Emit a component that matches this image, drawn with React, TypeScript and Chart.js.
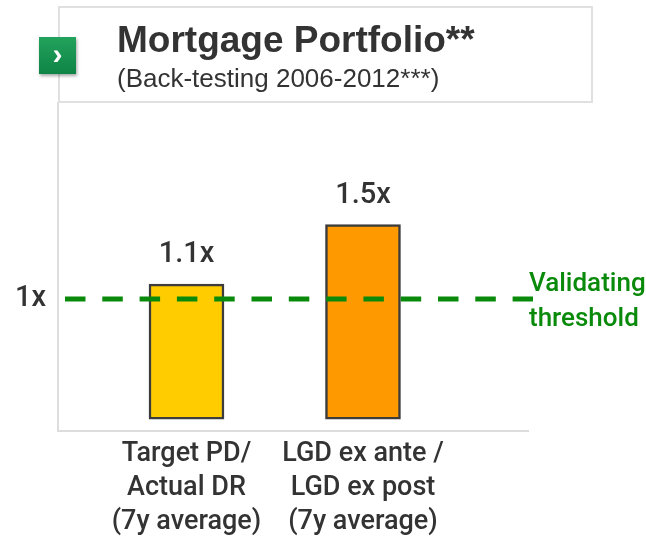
import React, { useEffect, useRef } from "react";
import { Chart, registerables } from "chart.js";

Chart.register(...registerables);

const TITLE = "Mortgage Portfolio**";
const SUBTITLE = "(Back-testing 2006-2012***)";
const CATEGORIES: string[][] = [
  ["Target PD/", "Actual DR", "(7y average)"],
  ["LGD ex ante /", "LGD ex post", "(7y average)"],
];
const VALUES: number[] = [1.1, 1.5];
const VALUE_LABELS: string[] = ["1.1x", "1.5x"];
const BAR_COLORS: string[] = ["#FFCC00", "#FF9900"];
const BAR_BASE = 0.19;
const THRESHOLD = 1;
const THRESHOLD_LABEL: string[] = ["Validating", "threshold"];
const Y_TICKS: number[] = [1];

const NARROW = "'Liberation Sans Narrow', 'Arial Narrow', Roboto, 'Liberation Sans', sans-serif";
const TEXT = "#333333";
const GREEN = "#0a8a0a";

const overlayPlugin = {
  id: "overlay",
  afterDatasetsDraw(chart: any) {
    const { ctx, chartArea } = chart;
    const y = chart.scales.y;
    const ty = y.getPixelForValue(THRESHOLD);
    ctx.save();
    ctx.strokeStyle = GREEN;
    ctx.lineWidth = 5;
    ctx.lineCap = "butt";
    ctx.setLineDash([20.5, 16.8]);
    ctx.beginPath();
    ctx.moveTo(chartArea.left + 7, ty);
    ctx.lineTo(chartArea.right + 5, ty);
    ctx.stroke();
    ctx.setLineDash([]);
    ctx.fillStyle = GREEN;
    ctx.font = `500 26px ${NARROW}`;
    ctx.textAlign = "left";
    ctx.textBaseline = "alphabetic";
    ctx.fillText(THRESHOLD_LABEL[0], chartArea.right + 1, ty - 8);
    ctx.fillText(THRESHOLD_LABEL[1], chartArea.right + 1, ty + 27);
    const meta = chart.getDatasetMeta(0);
    ctx.fillStyle = TEXT;
    ctx.font = `500 29px ${NARROW}`;
    ctx.textAlign = "center";
    meta.data.forEach((el: any, i: number) => {
      ctx.fillText(VALUE_LABELS[i], el.x, el.y - 22);
    });
    ctx.restore();
  },
};

export default function App() {
  const ref = useRef<HTMLCanvasElement | null>(null);
  useEffect(() => {
    if (!ref.current) return;
    const chart = new Chart(ref.current, {
      type: "bar",
      data: {
        datasets: [
          {
            data: VALUES.map((v, i) => ({ x: i + 1, y: [BAR_BASE, v] })) as any,
            backgroundColor: BAR_COLORS,
            borderColor: "#3c3c3c",
            borderWidth: 2.5,
            borderSkipped: false,
            barThickness: 75,
          },
        ],
      },
      options: {
        animation: false,
        responsive: true,
        maintainAspectRatio: false,
        layout: { padding: { top: 103, right: 118, left: 0, bottom: 0 } },
        plugins: { legend: { display: false }, tooltip: { enabled: false }, title: { display: false } },
        scales: {
          x: {
            type: "linear",
            offset: false,
            min: 0.272,
            max: 2.935,
            grid: { display: false, drawTicks: false, offset: false },
            border: { display: true, color: "#dddddd", width: 2 },
            afterBuildTicks: (s: any) => {
              s.ticks = CATEGORIES.map((_, i) => ({ value: i + 1 }));
            },
            afterFit: (s: any) => {
              s.height = 112;
            },
            ticks: {
              autoSkip: false,
              maxRotation: 0,
              padding: 6,
              color: TEXT,
              font: { family: NARROW, size: 27, weight: "500", lineHeight: 1.27 },
              callback: (v: any) => CATEGORIES[Math.round(v) - 1] as any,
            },
          },
          y: {
            min: 0.11,
            max: 2.32,
            grid: { display: false, drawTicks: false },
            border: { display: true, color: "#dddddd", width: 2 },
            afterBuildTicks: (s: any) => {
              s.ticks = Y_TICKS.map((v) => ({ value: v }));
            },
            afterFit: (s: any) => {
              s.width = 58;
            },
            ticks: {
              padding: 12,
              color: TEXT,
              font: { family: NARROW, size: 29, weight: "500" },
              callback: (v: any) => `${v}x`,
            },
          },
        },
      },
      plugins: [overlayPlugin],
    });
    return () => chart.destroy();
  }, []);

  return (
    <div style={{ position: "fixed", left: 0, top: 0, width: 646, height: 543, background: "#fff" }}>
      <canvas ref={ref} style={{ position: "absolute", left: 0, top: 0 }} />
      <div
        style={{
          position: "absolute",
          left: 58,
          top: 6,
          width: 535,
          height: 97,
          boxSizing: "border-box",
          border: "2px solid #e0e0e0",
        }}
      />
      <div
        style={{
          position: "absolute",
          left: 117,
          top: 21,
          fontFamily: "'Liberation Sans', Arial, sans-serif",
          fontWeight: "bold",
          fontSize: 37,
          lineHeight: "37px",
          color: TEXT,
          whiteSpace: "nowrap",
        }}
      >
        {TITLE}
      </div>
      <div
        style={{
          position: "absolute",
          left: 117,
          top: 65,
          fontFamily: "'Liberation Sans', Arial, sans-serif",
          fontSize: 26,
          lineHeight: "26px",
          color: TEXT,
          whiteSpace: "nowrap",
        }}
      >
        {SUBTITLE}
      </div>
      <div
        style={{
          position: "absolute",
          left: 39,
          top: 37,
          width: 37,
          height: 37,
          background: "linear-gradient(#22a35c, #0f8445)",
          boxShadow: "1px 2px 3px rgba(0,0,0,0.35)",
          color: "#fff",
          fontFamily: "'Liberation Sans', Arial, sans-serif",
          fontWeight: "bold",
          fontSize: 30,
          lineHeight: "34px",
          textAlign: "center",
        }}
      >
        ›
      </div>
    </div>
  );
}
